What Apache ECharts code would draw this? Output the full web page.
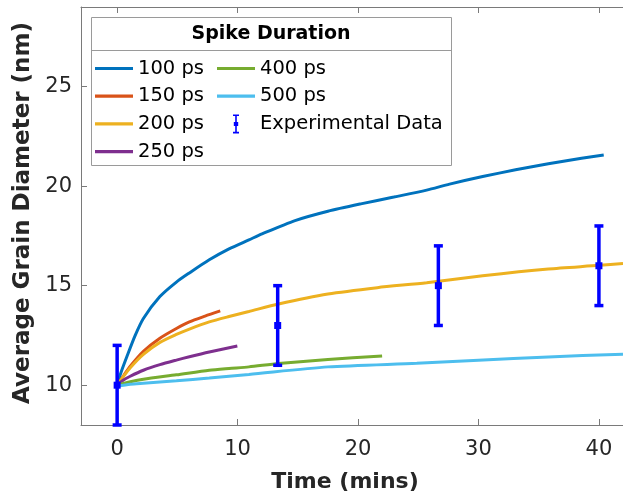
<!DOCTYPE html>
<html>
<head>
<meta charset="utf-8">
<script src="https://cdn.jsdelivr.net/npm/echarts@6/dist/echarts.min.js"></script>
<style>html,body{margin:0;padding:0;background:#fff;}#c{width:623px;height:500px;}</style>
</head>
<body>
<div id="c"></div>
<script>
// ---- data ----
const xTicks = [0, 10, 20, 30, 40];
const yTicks = [10, 15, 20, 25];

const t100 = [0, 0.3, 0.82, 1.5, 2.18, 3.55, 4.92, 6.0, 7.65, 9.29, 10.94, 12.03, 14.77, 17.5, 20.23, 22.97, 25.7, 27.6, 30.35, 33.08, 35.8, 38.56, 40.4];
const v100 = [10, 10.6, 11.45, 12.5, 13.35, 14.45, 15.18, 15.64, 16.3, 16.85, 17.3, 17.6, 18.27, 18.74, 19.11, 19.45, 19.8, 20.1, 20.48, 20.82, 21.12, 21.4, 21.57];

const t150 = [0, 0.5, 1.09, 2.18, 3.55, 4.92, 6.0, 7.3, 8.56];
const v150 = [10, 10.45, 10.95, 11.7, 12.36, 12.85, 13.18, 13.47, 13.73];

const t200 = [0, 0.5, 1.09, 2.18, 3.55, 4.92, 6.0, 7.65, 9.29, 10.94, 13.4, 17.5, 21.6, 25.7, 30.35, 35.8, 40.06, 42];
const v200 = [10, 10.42, 10.88, 11.55, 12.15, 12.55, 12.82, 13.18, 13.45, 13.7, 14.08, 14.58, 14.9, 15.15, 15.5, 15.84, 16.02, 16.12];

const t250 = [0, 0.5, 1.09, 2.18, 3.55, 4.92, 6.0, 7.65, 9.98];
const v250 = [10, 10.25, 10.45, 10.75, 11.03, 11.26, 11.43, 11.67, 11.97];

const t400 = [0, 1.09, 2.18, 4.92, 7.65, 9.29, 10.94, 13.4, 17.5, 22.0];
const v400 = [10, 10.17, 10.3, 10.52, 10.75, 10.84, 10.92, 11.09, 11.29, 11.47];

const t500 = [0, 1.09, 2.18, 4.92, 7.65, 10.94, 17.5, 24.88, 30, 35.8, 42];
const v500 = [9.95, 10.05, 10.1, 10.22, 10.36, 10.54, 10.92, 11.1, 11.25, 11.42, 11.56];

const expTime = [0, 13.33, 26.67, 40];
const expMean = [10, 13, 15, 16];
const expLow  = [8, 11, 13, 14];
const expHigh = [12, 15, 17, 18];

const seriesNames = ['100 ps', '150 ps', '200 ps', '250 ps', '400 ps', '500 ps'];
const seriesColors = ['#0072BD', '#D95319', '#EDB120', '#7E2F8E', '#77AC30', '#4DBEEE'];
const seriesT = [t100, t150, t200, t250, t400, t500];
const seriesV = [v100, v150, v200, v250, v400, v500];

// ---- chart ----
const FONT = '"DejaVu Sans", Verdana, sans-serif';
const AXC = '#7a7a7a';
const TXT = '#262626';
const linePath = 'path://M0,0H38V3.2H0Z';
const errPath = 'path://M0,0H6V1.6H3.8V7.5H5.2V11.5H3.8V17.4H6V19H0V17.4H2.2V11.5H0.8V7.5H2.2V1.6H0Z';

const zip = (a, b) => a.map((x, i) => [x, b[i]]);

const lineSeries = seriesNames.map((n, i) => ({
  name: n,
  type: 'line',
  data: zip(seriesT[i], seriesV[i]),
  symbol: 'none',
  smooth: 0.25,
  color: seriesColors[i],
  lineStyle: { width: 3, color: seriesColors[i] },
  z: 3
}));

const errSeries = {
  name: 'Experimental Data',
  type: 'custom',
  color: '#0000ff',
  data: expTime.map((x, i) => [x, expMean[i], expLow[i], expHigh[i]]),
  encode: { x: 0, y: [1, 2, 3] },
  z: 5,
  renderItem: function (params, api) {
    const x = api.value(0);
    const pm = api.coord([x, api.value(1)]);
    const pl = api.coord([x, api.value(2)]);
    const ph = api.coord([x, api.value(3)]);
    const cw = 4.5;
    const st = { stroke: '#0000ff', lineWidth: 3.5, fill: null };
    return {
      type: 'group',
      children: [
        { type: 'line', shape: { x1: pl[0], y1: pl[1], x2: ph[0], y2: ph[1] }, style: st },
        { type: 'line', shape: { x1: pl[0] - cw, y1: pl[1], x2: pl[0] + cw, y2: pl[1] }, style: st },
        { type: 'line', shape: { x1: ph[0] - cw, y1: ph[1], x2: ph[0] + cw, y2: ph[1] }, style: st },
        { type: 'rect', shape: { x: pm[0] - 3.5, y: pm[1] - 3.5, width: 7, height: 7 }, style: { fill: '#0000ff' } }
      ]
    };
  }
};

const chart = echarts.init(document.getElementById('c'), null, { renderer: 'canvas' });
const legendText = { fontSize: 19.5, color: '#000', fontFamily: FONT };
chart.setOption({
  animation: false,
  backgroundColor: '#fff',
  grid: { left: 81, right: -6, top: 7, bottom: 75, containLabel: false },
  xAxis: [{
    type: 'value', min: -3, max: 42,
    name: 'Time (mins)', nameLocation: 'middle', nameGap: 46,
    nameTextStyle: { fontSize: 22, fontWeight: 'bold', color: TXT, fontFamily: FONT, padding: [0, 14, 0, 0] },
    axisLine: { show: true, onZero: false, lineStyle: { color: AXC, width: 1 } },
    axisTick: { show: true, inside: true, length: 6, customValues: xTicks, lineStyle: { color: AXC } },
    axisLabel: { show: true, customValues: xTicks, fontSize: 21, color: TXT, fontFamily: FONT, margin: 14 },
    splitLine: { show: false }
  }, {
    type: 'value', min: -3, max: 42, position: 'top',
    axisLine: { show: true, onZero: false, lineStyle: { color: AXC, width: 1 } },
    axisTick: { show: true, inside: true, length: 6, customValues: xTicks, lineStyle: { color: AXC } },
    axisLabel: { show: false },
    splitLine: { show: false }
  }],
  yAxis: [{
    type: 'value', min: 8, max: 29,
    name: 'Average Grain Diameter (nm)', nameLocation: 'middle', nameGap: 42, nameRotate: 90,
    nameTextStyle: { fontSize: 23, fontWeight: 'bold', color: TXT, fontFamily: FONT, padding: [0, 0, 0, 6] },
    axisLine: { show: true, onZero: false, lineStyle: { color: AXC, width: 1 } },
    axisTick: { show: true, inside: true, length: 6, customValues: yTicks, lineStyle: { color: AXC } },
    axisLabel: { show: true, customValues: yTicks, fontSize: 21, color: TXT, fontFamily: FONT, margin: 9 },
    splitLine: { show: false }
  }],
  legend: [{
    data: ['100 ps', '150 ps', '200 ps', '250 ps'],
    orient: 'vertical', left: 95, top: 58.5,
    itemWidth: 38, itemHeight: 19, itemGap: 7.7,
    icon: linePath, selectedMode: false,
    textStyle: legendText, padding: 0
  }, {
    data: ['400 ps', '500 ps', { name: 'Experimental Data', icon: errPath }],
    orient: 'vertical', left: 217, top: 58.5,
    itemWidth: 38, itemHeight: 19, itemGap: 7.7,
    icon: linePath, selectedMode: false,
    textStyle: legendText, padding: 0
  }],
  graphic: [
    { type: 'rect', z: 3, shape: { x: 91.5, y: 17.5, width: 360, height: 148 }, style: { fill: '#fff', stroke: '#9a9a9a', lineWidth: 1 } },
    { type: 'line', z: 3, shape: { x1: 91.5, y1: 50.5, x2: 451.5, y2: 50.5 }, style: { stroke: '#9a9a9a', lineWidth: 1 } },
    { type: 'text', z: 4, x: 271, y: 34, style: { text: 'Spike Duration', font: 'bold 19px ' + FONT, fill: '#000', textAlign: 'center', textVerticalAlign: 'middle' } }
  ],
  series: lineSeries.concat([errSeries])
});
</script>
</body>
</html>
